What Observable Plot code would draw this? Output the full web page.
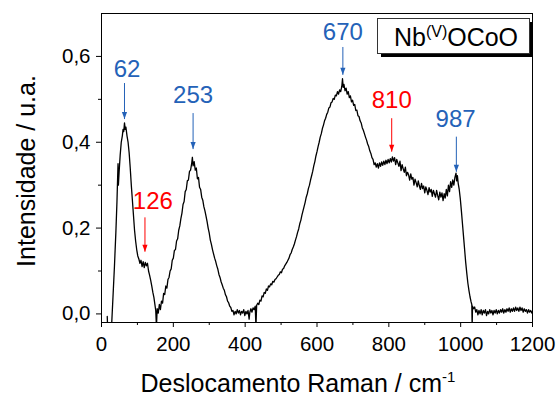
<!DOCTYPE html>
<html><head><meta charset="utf-8">
<script src="https://cdn.jsdelivr.net/npm/d3@7"></script>
<script src="https://cdn.jsdelivr.net/npm/@observablehq/plot@0.6"></script>
<style>html,body{margin:0;padding:0;background:#fff}svg{display:block}</style>
</head><body><div id="chart"></div>
<script>
// Raman spectrum (cm^-1) and intensity (a.u.)
const ramanShift = [16,17,28,32,36,40,43,46,47,49,52,55,58,60,62,64,66,68,71,74,77,80,83,86,89,92,95,98,101,104,107,110,113,116,119,122,125,128,131,134,137,140,143,146,149,151,153,155,158,161,164,167,170,173,176,179,182,185,188,191,194,197,200,203,206,209,212,215,218,221,224,227,230,233,236,239,242,245,248,251,253,255,258,261,264,267,270,273,276,279,282,285,288,291,294,297,300,303,306,309,312,315,318,321,324,327,330,333,336,339,342,345,348,351,354,357,360,363,366,369,372,375,378,381,384,387,390,393,396,399,402,405,408,411,413,416,419,422,425,428,430,432,435,438,441,444,447,450,453,456,459,462,465,468,471,474,477,480,483,486,489,492,495,498,501,504,507,510,513,516,519,522,525,528,531,534,537,540,543,546,549,552,555,558,561,564,567,570,573,576,579,582,585,588,591,594,597,600,603,606,609,612,615,618,621,624,627,630,633,636,639,642,645,648,651,654,657,660,663,666,669,671,673,675,678,681,684,687,690,693,696,699,702,705,708,711,714,717,720,723,726,729,732,735,738,741,744,747,750,753,756,759,762,765,768,771,774,777,780,783,786,789,792,795,798,801,804,807,810,813,816,819,822,825,828,831,834,837,840,843,846,849,852,855,858,861,864,867,870,873,876,879,882,885,888,891,894,897,900,903,906,909,912,915,918,921,924,927,930,933,936,939,942,945,948,951,954,957,960,963,966,969,972,975,978,981,984,987,989,991,993,996,999,1002,1005,1008,1011,1014,1017,1020,1023,1026,1029,1031,1032,1033,1036,1039,1042,1045,1048,1051,1054,1057,1060,1063,1066,1069,1072,1075,1078,1081,1084,1087,1090,1093,1096,1099,1102,1105,1108,1111,1114,1117,1120,1123,1126,1129,1132,1135,1138,1141,1144,1147,1150,1153,1156,1159,1162,1165,1168,1171,1174,1177,1180,1183,1186,1189,1192,1195,1198,1200];
const intensity = [-0.006,-0.030,-0.030,0.040,0.110,0.190,0.260,0.350,0.300,0.330,0.370,0.400,0.415,0.430,0.425,0.445,0.430,0.435,0.415,0.400,0.375,0.340,0.300,0.265,0.230,0.195,0.170,0.150,0.135,0.128,0.118,0.125,0.110,0.122,0.108,0.120,0.112,0.118,0.100,0.090,0.078,0.065,0.050,0.038,0.020,0.008,-0.030,0.012,0.002,0.022,0.010,0.030,0.025,0.048,0.045,0.065,0.060,0.080,0.085,0.100,0.105,0.125,0.130,0.148,0.150,0.170,0.175,0.195,0.205,0.222,0.235,0.255,0.262,0.285,0.290,0.310,0.312,0.332,0.335,0.350,0.365,0.345,0.355,0.335,0.340,0.315,0.318,0.295,0.290,0.272,0.265,0.250,0.240,0.228,0.215,0.200,0.188,0.172,0.162,0.150,0.140,0.130,0.122,0.112,0.104,0.092,0.085,0.075,0.068,0.060,0.055,0.045,0.040,0.030,0.026,0.018,0.015,0.006,0.008,-0.002,0.006,0.000,0.010,0.002,0.008,-0.002,0.006,0.002,0.010,-0.004,0.006,0.000,0.008,-0.012,0.004,0.012,0.004,0.014,0.010,0.018,-0.030,0.020,0.025,0.022,0.032,0.030,0.042,0.040,0.050,0.048,0.058,0.055,0.065,0.063,0.070,0.068,0.076,0.074,0.080,0.082,0.086,0.090,0.092,0.098,0.096,0.104,0.106,0.112,0.116,0.120,0.125,0.130,0.138,0.142,0.150,0.156,0.163,0.172,0.180,0.190,0.198,0.210,0.218,0.230,0.240,0.250,0.260,0.272,0.280,0.292,0.300,0.312,0.322,0.332,0.345,0.355,0.368,0.378,0.390,0.400,0.412,0.420,0.432,0.440,0.450,0.456,0.465,0.470,0.480,0.482,0.492,0.494,0.502,0.500,0.510,0.508,0.518,0.512,0.522,0.518,0.530,0.548,0.528,0.535,0.520,0.526,0.512,0.518,0.504,0.508,0.494,0.498,0.486,0.488,0.474,0.475,0.462,0.460,0.450,0.445,0.434,0.428,0.420,0.412,0.405,0.396,0.390,0.380,0.374,0.364,0.360,0.348,0.352,0.342,0.350,0.340,0.352,0.344,0.354,0.346,0.356,0.348,0.358,0.350,0.360,0.352,0.362,0.354,0.366,0.356,0.364,0.348,0.360,0.352,0.344,0.356,0.334,0.348,0.338,0.330,0.342,0.322,0.330,0.324,0.312,0.326,0.314,0.318,0.300,0.314,0.306,0.296,0.310,0.298,0.290,0.304,0.292,0.298,0.282,0.296,0.288,0.278,0.294,0.284,0.290,0.274,0.288,0.280,0.272,0.288,0.276,0.266,0.284,0.272,0.282,0.264,0.280,0.270,0.290,0.275,0.300,0.285,0.308,0.295,0.312,0.300,0.318,0.328,0.310,0.322,0.305,0.290,0.268,0.240,0.210,0.180,0.150,0.120,0.095,0.072,0.055,0.040,0.028,0.022,-0.030,0.018,0.012,0.016,0.004,0.010,-0.002,0.008,0.000,0.010,-0.002,0.008,0.002,0.010,-0.004,0.006,0.000,0.010,0.002,0.008,-0.002,0.008,0.002,0.010,0.000,0.008,0.002,0.010,0.004,0.012,0.002,0.010,0.004,0.012,0.006,0.014,0.004,0.012,0.006,0.014,0.006,0.016,0.008,0.014,0.006,0.016,0.008,0.014,0.004,0.012,0.006,0.010,0.002,0.010,0.004,0.008,0.002,0.006];

// Peak annotations
const peakLabels = ["62","126","253","670","810","987"];
const peakColors = ["#2462b8","#ff0000","#2462b8","#2462b8","#ff0000","#2462b8"];
const arrowX = [64,121,255,672,808,988];
const labelX = [71,143,255,672,808,986];
const labelY = [0.553,0.244,0.491,0.639,0.479,0.436];
const arrowTop = [0.538,0.225,0.468,0.622,0.456,0.413];
const arrowTip = [0.454,0.145,0.384,0.557,0.378,0.331];

// Axes
const xTicks = [0,200,400,600,800,1000,1200];
const xMinor = [100,300,500,700,900,1100];
const yTicks = [0,0.2,0.4,0.6];
const yMinor = [0.1,0.3,0.5];
const xTitle = "Deslocamento Raman / cm", xTitleSup = "-1";
const yTitle = "Intensidade / u.a.";
const legendName = "Nb", legendSup = "(V)", legendRest = "OCoO";

const spectrum = ramanShift.map((x, i) => ({x, y: intensity[i]}));
const peaks = peakLabels.map((t, i) => ({t, c: peakColors[i], ax: arrowX[i], lx: labelX[i], ly: labelY[i], y1: arrowTop[i], y2: arrowTip[i]}));
const fmt = d => d3.format(".1f")(d).replace(".", ",");
const triangleDown = {draw(ctx, size) { const w = 2.6, h = 7; ctx.moveTo(0, 0); ctx.lineTo(-w, -h); ctx.lineTo(w, -h); ctx.closePath(); }};
const FONT = "'Liberation Sans', Arial, sans-serif";

const chart = Plot.plot({
  width: 558, height: 397,
  marginLeft: 101, marginRight: 26, marginTop: 13, marginBottom: 75,
  style: {fontFamily: FONT, background: "#fff", color: "#000"},
  x: {domain: [0, 1200]},
  y: {domain: [-0.02, 0.7]},
  color: {type: "identity"},
  marks: [
    Plot.axisX({ticks: xTicks, tickSize: 5, tickPadding: 9, fontSize: 20.5, label: null, tickFormat: d => String(d)}),
    Plot.axisX({ticks: xMinor, tickSize: 3, label: null, tickFormat: () => ""}),
    Plot.axisY({ticks: yTicks, tickSize: 5, tickPadding: 6, fontSize: 20.5, label: null, tickFormat: fmt}),
    Plot.axisY({ticks: yMinor, tickSize: 3, label: null, tickFormat: () => ""}),
    Plot.line(spectrum, {x: "x", y: "y", stroke: "#000", strokeWidth: 1.3, clip: true}),
    Plot.link(peaks, {x1: "ax", x2: "ax", y1: "y1", y2: "y2", stroke: "c", strokeWidth: 1}),
    Plot.dot(peaks, {x: "ax", y: "y2", r: 3, fill: "c", stroke: null, symbol: triangleDown}),
    Plot.text(peaks, {x: "lx", y: "ly", text: "t", fill: "c", fontSize: 24, lineAnchor: "bottom"}),
    Plot.frame({stroke: "#000", strokeWidth: 1})
  ]
});

const svg = d3.select(chart);
// axis titles
const xt = svg.append("text").attr("x", 298).attr("y", 392).attr("text-anchor", "middle")
  .style("font-family", FONT).style("font-size", "25px").attr("fill", "#000");
xt.append("tspan").text(xTitle);
xt.append("tspan").attr("dy", -10).style("font-size", "15px").text(xTitleSup);
svg.append("text").attr("transform", "translate(35,171) rotate(-90)").attr("text-anchor", "middle")
  .style("font-family", FONT).style("font-size", "25px").attr("fill", "#000").text(yTitle);
// legend box
const lg = svg.append("g");
lg.append("rect").attr("x", 381).attr("y", 22).attr("width", 152).attr("height", 35).attr("fill", "#000");
lg.append("rect").attr("x", 377.5).attr("y", 18.5).attr("width", 152).attr("height", 35).attr("fill", "#fff").attr("stroke", "#333");
const lt = lg.append("text").attr("x", 456).attr("y", 46).attr("text-anchor", "middle")
  .style("font-family", FONT).style("font-size", "25px").attr("fill", "#000");
lt.append("tspan").text(legendName);
lt.append("tspan").attr("dy", -9).style("font-size", "16px").text(legendSup);
lt.append("tspan").attr("dy", 9).text(legendRest);

document.getElementById("chart").appendChild(chart);
</script>
</body></html>
